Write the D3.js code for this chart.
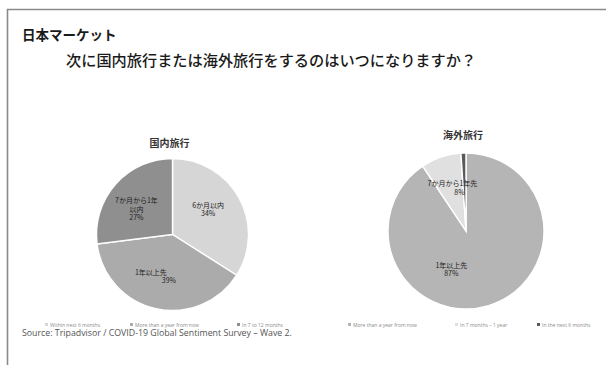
<!DOCTYPE html>
<html>
<head>
<meta charset="utf-8">
<script src="https://cdn.jsdelivr.net/npm/d3@7"></script>
<style>
  html, body { margin: 0; padding: 0; background: #fff; }
  svg { display: block; }
</style>
</head>
<body>
<script>
// Domestic travel: when respondents expect their next trip
const domesticCategories = ["6か月以内", "1年以上先", "7か月から1年以内"];
const domesticValues = [34, 39, 27];
const domesticLegend = ["Within next 6 months", "More than a year from now", "In 7 to 12 months"];

// Overseas travel
const overseasCategories = ["1年以上先", "7か月から1年先", "6か月以内"];
const overseasValues = [87, 8, 1];
const overseasLegend = ["More than a year from now", "In 7 months – 1 year", "In the next 6 months"];

const titleMain = "日本マーケット";
const titleSub = "次に国内旅行または海外旅行をするのはいつになりますか？";
const pieTitles = ["国内旅行", "海外旅行"];
const sourceNote = "Source: Tripadvisor / COVID-19 Global Sentiment Survey – Wave 2.";

const W = 606, H = 365;
const jp = "'Noto Sans CJK JP', 'Noto Sans', sans-serif";

const svg = d3.select("body").append("svg")
  .attr("width", W).attr("height", H);

svg.append("rect").attr("width", W).attr("height", H).attr("fill", "#fff");

// slide frame (top and left rule)
svg.append("path")
  .attr("d", `M7.5,${H} V9.5 H${W}`)
  .attr("fill", "none").attr("stroke", "#8a8a8a").attr("stroke-width", 1.6);

svg.append("text").attr("x", 22).attr("y", 40)
  .attr("font-family", jp).attr("font-size", 13.5).attr("font-weight", 700)
  .attr("fill", "#1a1a1a").text(titleMain);

svg.append("text").attr("x", 66).attr("y", 66)
  .attr("font-family", jp).attr("font-size", 15.2).attr("font-weight", 500)
  .attr("fill", "#1a1a1a").text(titleSub);

svg.append("text").attr("x", 22).attr("y", 336)
  .attr("font-family", "'Open Sans', sans-serif").attr("font-size", 8.8)
  .attr("fill", "#555").text(sourceNote);

function wrap(str, maxChars) {
  const lines = [];
  for (let i = 0; i < str.length; i += maxChars) lines.push(str.slice(i, i + maxChars));
  return lines;
}

function drawPie(opt) {
  const g = svg.append("g").attr("transform", `translate(${opt.cx},${opt.cy})`);
  const pie = d3.pie().sort(null).value(d => d.value);
  const arcs = pie(opt.categories.map((c, i) => ({ name: c, value: opt.values[i] })));
  const total = d3.sum(opt.values);
  const arc = d3.arc().innerRadius(0).outerRadius(opt.r);
  const color = d3.scaleOrdinal().domain(opt.categories).range(opt.colors);

  g.selectAll("path.slice").data(arcs).join("path")
    .attr("class", "slice")
    .attr("d", arc)
    .attr("fill", d => color(d.data.name))
    .attr("stroke", "#fff").attr("stroke-width", 1.4);

  const labelArc = d3.arc().innerRadius(opt.r * opt.labelFactor).outerRadius(opt.r * opt.labelFactor);
  arcs.forEach((d, i) => {
    if (d.value / total < 0.03) return;
    const [x, y] = labelArc.centroid(d);
    const pct = Math.round(d.value) + "%";
    const lines = wrap(d.data.name, opt.maxChars).concat([pct]);
    const off = opt.offsets[i];
    const t = g.append("text")
      .attr("font-family", jp).attr("font-size", 7)
      .attr("fill", "#222").attr("text-anchor", "middle");
    lines.forEach((ln, k) => {
      t.append("tspan")
        .attr("x", x + off[0] + (k === lines.length - 1 ? off[2] : 0))
        .attr("y", y + off[1] + (k - (lines.length - 1) / 2) * 8.5 + 2.5)
        .text(ln);
    });
  });

  svg.append("text")
    .attr("x", opt.cx - 3).attr("y", opt.titleY)
    .attr("text-anchor", "middle")
    .attr("font-family", jp).attr("font-size", 10).attr("font-weight", 700)
    .attr("fill", "#333").text(opt.title);

  // legend row
  const lg = svg.append("g");
  opt.legend.forEach((txt, i) => {
    const x = opt.legendX[i];
    lg.append("rect").attr("x", x).attr("y", 323)
      .attr("width", 3).attr("height", 3).attr("fill", opt.colors[i]);
    lg.append("text").attr("x", x + 5).attr("y", 326.5)
      .attr("font-family", "'Open Sans', sans-serif").attr("font-size", 5)
      .attr("fill", "#8a8a8a").text(txt);
  });
}

drawPie({
  cx: 172.5, cy: 234.5, r: 76,
  categories: domesticCategories, values: domesticValues,
  colors: ["#d6d6d6", "#ababab", "#8f8f8f"],
  labelFactor: 0.58, maxChars: 7,
  offsets: [[-3, -4, 0], [-12, -1, 18], [-3, 4, 0]],
  title: pieTitles[0], titleY: 147,
  legend: domesticLegend, legendX: [45, 130, 237]
});

drawPie({
  cx: 466, cy: 231, r: 78,
  categories: overseasCategories, values: overseasValues,
  colors: ["#b5b5b5", "#e0e0e0", "#5a5a5a"],
  labelFactor: 0.5, maxChars: 8,
  offsets: [[-26, 1, 0], [-1, -6, 7], [0, 0, 0]],
  title: pieTitles[1], titleY: 139,
  legend: overseasLegend, legendX: [348, 455, 537]
});
</script>
</body>
</html>
